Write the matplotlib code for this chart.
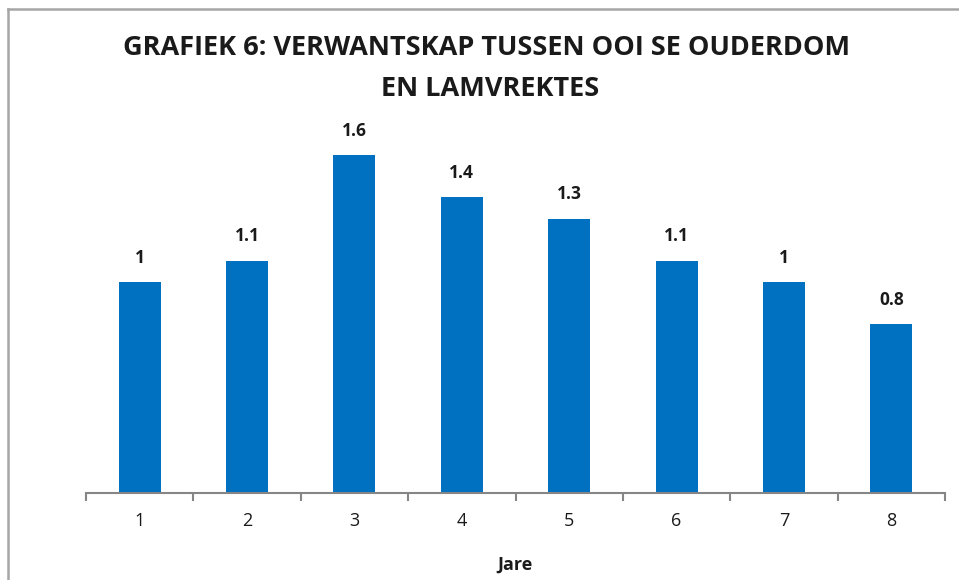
import matplotlib.pyplot as plt
from matplotlib.lines import Line2D

# data
years = ["1", "2", "3", "4", "5", "6", "7", "8"]
lambs = [1.0, 1.1, 1.6, 1.4, 1.3, 1.1, 1.0, 0.8]
value_labels = ["1", "1.1", "1.6", "1.4", "1.3", "1.1", "1", "0.8"]

W, H = 959, 580
fig = plt.figure(figsize=(W / 100, H / 100), dpi=100)
plt.rcParams['font.family'] = ['Open Sans', 'DejaVu Sans']
txt = '#1a1a1a'

# plot area in pixels: x 86..945, baseline at y=493
ax = fig.add_axes([86 / W, (H - 493) / H, (945 - 86) / W, 380 / H])

x = list(range(len(years)))
ax.bar(x, lambs, width=0.39, color='#0070C0')
ax.set_xlim(-0.5, len(years) - 0.5)
ax.set_ylim(0, 1.8)

for xi, v, lab in zip(x, lambs, value_labels):
    ax.annotate(lab, (xi, v), xytext=(0, 17.5), textcoords='offset points',
                ha='center', va='center', fontsize=12.5, fontweight='bold',
                color=txt)

# category axis with ticks between categories
for s in ['top', 'right', 'left']:
    ax.spines[s].set_visible(False)
ax.spines['bottom'].set_color('#868686')
ax.spines['bottom'].set_linewidth(1.5)
ax.set_yticks([])
ax.set_xticks(x)
ax.set_xticklabels(years, fontsize=13, color=txt)
ax.tick_params(axis='x', which='major', length=0, pad=14)
ax.set_xticks([i - 0.5 for i in range(len(years) + 1)], minor=True)
ax.tick_params(axis='x', which='minor', length=6, width=1.5, color='#868686')

fig.text(515 / W, 1 - 565 / H, "Jare", ha='center', va='center',
         fontsize=13, fontweight='bold', color=txt)

fig.text(487 / W, 1 - 48 / H, "GRAFIEK 6: VERWANTSKAP TUSSEN OOI SE OUDERDOM",
         ha='center', va='center', fontsize=19.5, fontweight='bold', color=txt)
fig.text(490 / W, 1 - 89 / H, "EN LAMVREKTES",
         ha='center', va='center', fontsize=19.5, fontweight='bold', color=txt)

# chart border (continues past the right and bottom edges)
fig.add_artist(Line2D([8 / W, 8 / W], [0, 1 - 9 / H], color='#a6a6a6', lw=1.8,
                      transform=fig.transFigure))
fig.add_artist(Line2D([8 / W, 1], [1 - 9 / H, 1 - 9 / H], color='#a6a6a6', lw=1.8,
                      transform=fig.transFigure))

fig.savefig("out.png", dpi=100)
